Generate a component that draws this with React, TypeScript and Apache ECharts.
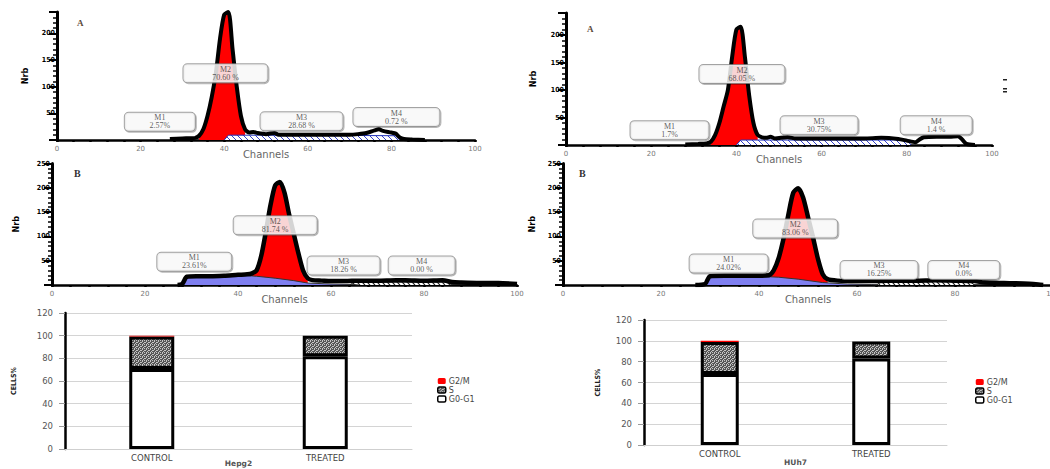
import React, { useEffect, useRef } from 'react';
import * as echarts from 'echarts';

// ---------- DATA ----------
// Histograms: [channel, count]
const hepA_total: [number, number][] = [[27,2],[30,3],[33,4],[34,8],[35,20],[36,45],[37,80],[38,125],[39,190],[40,235],[41,240],[42,170],[43,100],[44,45],[45,20],[46,14],[47,15],[48,13],[50,11],[52,13],[53,10],[56,10],[60,10],[65,10],[70,10],[72,11],[74,13],[76,18],[77,20],[78,17],[80,14],[81,12],[82,5],[83,2],[85,1],[88,0]];
const hepA_S: [number, number][] = [[40,0],[41,9],[60,9],[81,8],[82,0]];
const huhA_total: [number, number][] = [[28,1],[31,2],[33,3],[34,6],[35,18],[36,40],[37,70],[38,100],[39,160],[40,210],[41,215],[42,160],[43,90],[44,40],[45,18],[46,14],[47,13],[48,15],[49,12],[52,14],[54,12],[58,12],[62,12],[66,12],[70,12],[74,13],[78,11],[80,8],[82,5],[83,10],[84,14],[87,15],[90,15],[92,16],[93,10],[94,2],[96,0]];
const huhA_S: [number, number][] = [[40,0],[41,9],[60,9],[80,9],[81,0]];
const hepB_total: [number, number][] = [[27,0],[28,2],[29,17],[31,18],[34,18],[37,19],[40,21],[42,22],[43,24],[44,30],[45,60],[46,110],[47,165],[48,205],[49,212],[50,190],[51,145],[52,105],[53,65],[54,30],[55,14],[56,10],[58,9],[60,8],[63,8],[66,9],[70,9],[74,10],[76,10],[80,9],[84,10],[86,6],[88,5],[92,4],[96,4],[100,2]];
const hepB_M1: [number, number][] = [[28,0],[29,17],[35,17],[41,20],[44,18],[48,14],[52,9],[55,4],[60,2],[65,1],[66,0]];
const hepB_S: [number, number][] = [[64,0],[65,6],[85,6],[86,0]];
const huhB_total: [number, number][] = [[27,0],[29,2],[30,18],[33,19],[37,19],[40,19],[42,20],[43,30],[44,55],[45,95],[46,145],[47,190],[48,199],[49,180],[50,140],[51,99],[52,55],[53,22],[54,12],[56,9],[60,8],[64,8],[68,9],[72,9],[76,10],[80,9],[84,8],[86,5],[90,4],[94,3],[97,1],[98,0]];
const huhB_M1: [number, number][] = [[29,0],[30,18],[35,18],[40,18],[44,16],[48,12],[53,5],[58,2],[63,1],[64,0]];
const huhB_S: [number, number][] = [[64,0],[65,7],[83,7],[84,0]];

// M2 (G0-G1) gate ranges in channels
const hepA_M2gate = [34, 45];
const huhA_M2gate = [34, 45];
const hepB_M2gate = [43, 55];
const huhB_M2gate = [42, 54];

// Marker labels
const markerNames = ['M1', 'M2', 'M3', 'M4'];
const hepA_pct = ['2.57%', '70.60 %', '28.68 %', '0.72 %'];
const huhA_pct = ['1.7%', '68.05 %', '30.75%', '1.4 %'];
const hepB_pct = ['23.61%', '81.74 %', '18.26 %', '0.00 %'];
const huhB_pct = ['24.02%', '83.06 %', '16.25%', '0.0%'];

// Bar charts
const barCategories = ['CONTROL', 'TREATED'];
const phaseNames = ['G2/M', 'S', 'G0-G1'];
const hep_G0G1 = [70.6, 81.74];
const hep_S = [28.68, 18.26];
const hep_G2M = [0.72, 0];
const huh_G0G1 = [68.05, 83.06];
const huh_S = [30.75, 16.25];
const huh_G2M = [1.4, 0];
const barYTicks = [0, 20, 40, 60, 80, 100, 120];

// ---------- LAYOUT (not data) ----------
const histGrids = [
  { left: 57, top: 12, width: 418, height: 128, ymax: 240, nameGap: 28, line: 4 },
  { left: 566, top: 13, width: 426, height: 132, ymax: 240, nameGap: 29, line: 4 },
  { left: 52, top: 163.5, width: 465, height: 121.5, ymax: 250, nameGap: 32, line: 4.5 },
  { left: 563, top: 163.5, width: 490, height: 121.5, ymax: 250, nameGap: 27, line: 4.5 },
];
const labelAnchors: [number, number][][] = [
  [[24.6, 34], [40.3, 125], [58.5, 35], [81.2, 43]],
  [[24.3, 27], [41.3, 129], [59.4, 36], [86.9, 36]],
  [[30.6, 48], [48, 123], [62.7, 40], [79.5, 40]],
  [[33.8, 44], [47.4, 116], [64.5, 31], [81.8, 31]],
];
const labelWidths = [
  [70, 84, 82, 86],
  [78, 85, 77, 71],
  [74, 83, 72, 66],
  [78, 84, 77, 71],
];

function makeHatch(color: string, bg: string, size: number, w: number) {
  const c = document.createElement('canvas');
  c.width = size; c.height = size;
  const g = c.getContext('2d')!;
  g.fillStyle = bg; g.fillRect(0, 0, size, size);
  g.strokeStyle = color; g.lineWidth = w;
  g.beginPath();
  for (const k of [-size, 0, size]) { g.moveTo(k, 0); g.lineTo(k + size, size); }
  g.stroke();
  return c;
}
function makeChecker() {
  const c = document.createElement('canvas');
  c.width = 4; c.height = 4;
  const g = c.getContext('2d')!;
  g.fillStyle = '#555555'; g.fillRect(0, 0, 4, 4);
  g.fillStyle = '#c4c4c4';
  [[0, 0], [2, 1], [1, 2], [3, 3], [2, 0], [0, 2]].forEach(([x, y]) => g.fillRect(x, y, 1, 1));
  return c;
}

export default function App() {
  const ref = useRef<HTMLDivElement>(null);
  useEffect(() => {
    if (!ref.current) return;
    const chart = echarts.init(ref.current, null, { renderer: 'svg' });
    const blueHatch = { image: makeHatch('#3340c8', '#ffffff', 6, 1), repeat: 'repeat' };
    const darkHatch = { image: makeHatch('#222', '#ffffff', 5, 1.2), repeat: 'repeat' };
    const checker = { image: makeChecker(), repeat: 'repeat' };

    const panels = [
      { total: hepA_total, S: hepA_S, M1: null as any, gate: hepA_M2gate, pct: hepA_pct, hatch: blueHatch },
      { total: huhA_total, S: huhA_S, M1: null as any, gate: huhA_M2gate, pct: huhA_pct, hatch: blueHatch },
      { total: hepB_total, S: hepB_S, M1: hepB_M1, gate: hepB_M2gate, pct: hepB_pct, hatch: darkHatch },
      { total: huhB_total, S: huhB_S, M1: huhB_M1, gate: huhB_M2gate, pct: huhB_pct, hatch: darkHatch },
    ];

    const grid: any[] = [];
    const xAxis: any[] = [];
    const yAxis: any[] = [];
    const series: any[] = [];

    histGrids.forEach((g, i) => {
      grid.push({ left: g.left, top: g.top, width: g.width, height: g.height, outerBoundsMode: 'none', containLabel: false });
      xAxis.push({
        type: 'value', gridIndex: i, min: 0, max: 100, interval: 20,
        axisLine: { lineStyle: { color: '#000', width: 2.5 } },
        axisTick: { show: true, length: 2, lineStyle: { color: '#000', width: 2.5 } },
        minorTick: { show: true, splitNumber: 5, length: 2, lineStyle: { color: '#000', width: 2.5 } },
        splitLine: { show: false },
        axisLabel: { fontSize: 7, color: '#777', margin: 5, fontFamily: 'DejaVu Sans' },
        name: 'Channels', nameLocation: 'middle', nameGap: 9, nameMoveOverlap: false,
        nameTextStyle: { fontSize: 10, color: '#666', fontFamily: 'DejaVu Sans' },
      });
      yAxis.push({
        type: 'value', gridIndex: i, min: 0, max: g.ymax, interval: 50,
        axisLine: { show: true, lineStyle: { color: '#000', width: 3 } },
        axisTick: { show: true, length: 8, lineStyle: { color: '#000', width: 2 } },
        minorTick: { show: true, splitNumber: 5, length: 4, lineStyle: { color: '#000', width: 1.5 } },
        splitLine: { show: false },
        axisLabel: {
          fontSize: 7, fontWeight: 'bold', color: '#000', margin: 2, fontFamily: 'DejaVu Sans Condensed',
          formatter: (v: number) => (v > 0 && v % 50 === 0 ? String(v) : ''),
        },
        name: 'Nrb', nameLocation: 'middle', nameRotate: 90, nameGap: g.nameGap, nameMoveOverlap: false,
        nameTextStyle: { fontSize: 9, fontWeight: 'bold', color: '#000', fontFamily: 'DejaVu Sans Condensed' },
      });
      const p = panels[i];
      const smooth = 0.25;
      series.push({
        type: 'line', xAxisIndex: i, yAxisIndex: i, symbol: 'none', smooth, silent: true, z: 1,
        data: p.total.filter(([c]) => c >= p.gate[0] && c <= p.gate[1]),
        lineStyle: { width: 0 }, areaStyle: { color: '#ff0000', opacity: 1 },
      });
      if (p.M1) {
        series.push({
          type: 'line', xAxisIndex: i, yAxisIndex: i, symbol: 'none', silent: true, z: 2,
          data: p.M1, lineStyle: { width: 1, color: '#333' }, areaStyle: { color: '#7f7ff0', opacity: 1 },
        });
      }
      series.push({
        type: 'line', xAxisIndex: i, yAxisIndex: i, symbol: 'none', silent: true, z: 2,
        data: p.S, lineStyle: { width: 1, color: i < 2 ? '#2233bb' : '#222' }, areaStyle: { color: p.hatch, opacity: 1 },
      });
      series.push({
        type: 'line', xAxisIndex: i, yAxisIndex: i, symbol: 'none', smooth, silent: true, z: 3,
        data: p.total, lineStyle: { width: g.line, color: '#000' },
      });
      series.push({
        type: 'scatter', xAxisIndex: i, yAxisIndex: i, symbolSize: 1, silent: true, z: 10,
        itemStyle: { color: 'rgba(0,0,0,0)' },
        data: labelAnchors[i].map((a, k) => ({
          value: a,
          label: { formatter: `{a|${markerNames[k]}}\n{b|${p.pct[k]}}`, width: labelWidths[i][k] },
        })),
        label: {
          show: true, position: 'inside', align: 'center', verticalAlign: 'middle',
          backgroundColor: '#fff', borderColor: '#8c8c8c', borderWidth: 1, borderRadius: 4,
          padding: [1, 0, 1, 0],
          shadowColor: 'rgba(0,0,0,0.35)', shadowOffsetX: 1, shadowOffsetY: 1, shadowBlur: 1,
          rich: {
            a: { fontSize: 8, lineHeight: 8, color: '#333', fontFamily: 'Liberation Serif', align: 'center' },
            b: { fontSize: 8, lineHeight: 8, color: '#333', fontFamily: 'Liberation Serif', align: 'center' },
          },
        },
      });
    });

    const bars = [
      { left: 65, top: 313, width: 347, height: 136, barWidth: 45, name: 'Hepg2', gap: 10, g0: hep_G0G1, s: hep_S, g2: hep_G2M },
      { left: 644, top: 320, width: 303, height: 125, barWidth: 38, name: 'HUh7', gap: 13, g0: huh_G0G1, s: huh_S, g2: huh_G2M },
    ];
    bars.forEach((b, j) => {
      const idx = 4 + j;
      grid.push({ left: b.left, top: b.top, width: b.width, height: b.height, outerBoundsMode: 'none', containLabel: false });
      xAxis.push({
        type: 'category', gridIndex: idx, data: barCategories,
        axisLine: { show: true, lineStyle: { color: '#cfcfcf', width: 1 } },
        axisTick: { show: false },
        axisLabel: { fontSize: 8.5, color: '#444', margin: 4, fontFamily: 'DejaVu Sans' },
        name: b.name, nameLocation: 'middle', nameGap: b.gap, nameMoveOverlap: false,
        nameTextStyle: { fontSize: 7.5, fontWeight: 'bold', color: '#555', fontFamily: 'DejaVu Sans' },
      });
      yAxis.push({
        type: 'value', gridIndex: idx, min: barYTicks[0], max: barYTicks[barYTicks.length - 1], interval: barYTicks[1] - barYTicks[0],
        axisLine: { show: true, lineStyle: { color: '#000', width: 2.5 } },
        axisTick: { show: true, length: 6, lineStyle: { color: '#999', width: 1 } },
        splitLine: { show: true, lineStyle: { color: '#d4d4d4', width: 1 } },
        axisLabel: { fontSize: 8.5, color: '#555', margin: 12, fontFamily: 'DejaVu Sans' },
        name: 'CELLS%', nameLocation: 'middle', nameRotate: 90, nameGap: j === 0 ? 48 : 43, nameMoveOverlap: false,
        nameTextStyle: { fontSize: 7, fontWeight: 'bold', color: '#222', fontFamily: 'DejaVu Sans Condensed' },
      });
      const stack = 'st' + j;
      series.push({
        type: 'bar', name: 'G0-G1', stack, xAxisIndex: idx, yAxisIndex: idx, barWidth: b.barWidth, data: b.g0,
        itemStyle: { color: '#ffffff', borderColor: '#000', borderWidth: 3 },
      });
      series.push({
        type: 'bar', name: 'S', stack, xAxisIndex: idx, yAxisIndex: idx, barWidth: b.barWidth, data: b.s,
        itemStyle: { color: checker, borderColor: '#000', borderWidth: 3 },
      });
      series.push({
        type: 'bar', name: 'G2/M', stack, xAxisIndex: idx, yAxisIndex: idx, barWidth: b.barWidth, data: b.g2,
        itemStyle: { color: '#ff0000', borderWidth: 0 },
      });
    });

    const legendData = phaseNames.map((n) => ({
      name: n,
      itemStyle: n === 'G2/M' ? { borderWidth: 0 } : { borderWidth: 1.5, borderColor: '#000' },
    }));
    const legendBase = {
      orient: 'vertical', itemWidth: 8, itemHeight: 6, itemGap: 1,
      textStyle: { fontSize: 8, color: '#444', fontFamily: 'DejaVu Sans', padding: [0, 0, 0, -2] },
      data: legendData, selectedMode: false,
    };

    chart.setOption({
      animation: false,
      backgroundColor: '#fff',
      grid, xAxis, yAxis, series,
      legend: [
        { ...legendBase, left: 432, top: 372 },
        { ...legendBase, left: 970, top: 373 },
      ],
      graphic: [
        { type: 'text', left: 77, top: 18, style: { text: 'A', font: 'bold 9px Liberation Serif', fill: '#5a4a3a' } },
        { type: 'text', left: 587, top: 24, style: { text: 'A', font: 'bold 9px Liberation Serif', fill: '#5a4a3a' } },
        { type: 'text', left: 74, top: 168, style: { text: 'B', font: 'bold 10px Liberation Serif', fill: '#333' } },
        { type: 'text', left: 579, top: 168, style: { text: 'B', font: 'bold 10px Liberation Serif', fill: '#333' } },
        { type: 'rect', left: 1003, top: 79, shape: { width: 4, height: 1.5 }, style: { fill: '#222' } },
        { type: 'rect', left: 1003, top: 88, shape: { width: 4, height: 1.5 }, style: { fill: '#222' } },
        { type: 'rect', left: 1003, top: 91, shape: { width: 4, height: 1.5 }, style: { fill: '#222' } },
      ],
    });
    return () => chart.dispose();
  }, []);
  return (
    <div
      ref={ref}
      style={{ position: 'fixed', left: 0, top: 0, width: 1050, height: 469, background: '#fff' }}
    />
  );
}
